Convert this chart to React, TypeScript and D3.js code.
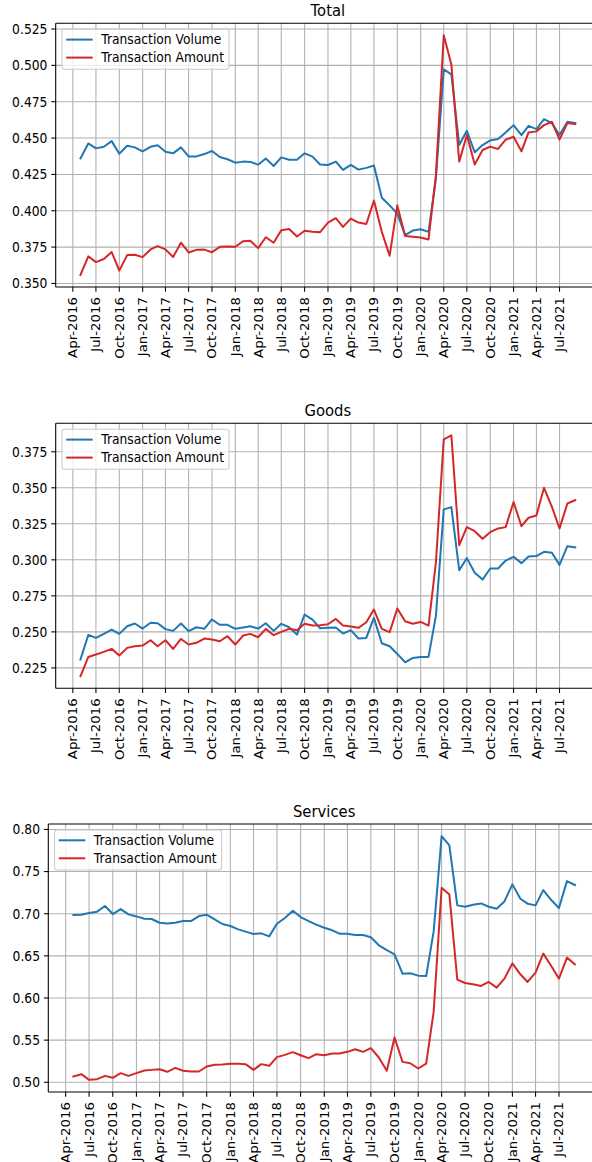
import React from "react";
import * as d3 from "d3";

// ---------- data ----------
const startYear = 2016;
const startMonth = 4; // May (0-based)
const nMonths = 65;

const tickLabels = [
  "Apr-2016", "Jul-2016", "Oct-2016", "Jan-2017", "Apr-2017", "Jul-2017", "Oct-2017",
  "Jan-2018", "Apr-2018", "Jul-2018", "Oct-2018", "Jan-2019", "Apr-2019", "Jul-2019",
  "Oct-2019", "Jan-2020", "Apr-2020", "Jul-2020", "Oct-2020", "Jan-2021", "Apr-2021", "Jul-2021",
];

const totalVolume = [
  0.4360, 0.4463, 0.4429, 0.4440, 0.4479, 0.4392, 0.4447, 0.4436, 0.4408, 0.4440,
  0.4450, 0.4406, 0.4395, 0.4436, 0.4374, 0.4374, 0.4390, 0.4411, 0.4370, 0.4354,
  0.4331, 0.4338, 0.4336, 0.4317, 0.4360, 0.4308, 0.4367, 0.4351, 0.4351, 0.4395,
  0.4372, 0.4318, 0.4315, 0.4338, 0.4281, 0.4315, 0.4283, 0.4295, 0.4311, 0.4090,
  0.4037, 0.3980, 0.3832, 0.3864, 0.3873, 0.3855, 0.4220, 0.4972, 0.4938, 0.4452,
  0.4550, 0.4402, 0.4452, 0.4484, 0.4493, 0.4539, 0.4589, 0.4521, 0.4584, 0.4562,
  0.4630, 0.4603, 0.4521, 0.4612, 0.4603,
];
const totalAmount = [
  0.3558, 0.3686, 0.3647, 0.3668, 0.3716, 0.3588, 0.3695, 0.3697, 0.3681, 0.3734,
  0.3757, 0.3734, 0.3682, 0.3780, 0.3713, 0.3731, 0.3733, 0.3715, 0.3752, 0.3754,
  0.3752, 0.3791, 0.3793, 0.3743, 0.3818, 0.3780, 0.3866, 0.3875, 0.3823, 0.3862,
  0.3855, 0.3853, 0.3919, 0.3950, 0.3889, 0.3946, 0.3919, 0.3909, 0.4071, 0.3855,
  0.3691, 0.4037, 0.3827, 0.3821, 0.3816, 0.3802, 0.4242, 0.5207, 0.5006, 0.4338,
  0.4521, 0.4318, 0.4418, 0.4441, 0.4425, 0.4489, 0.4509, 0.4409, 0.4539, 0.4546,
  0.4589, 0.4612, 0.4489, 0.4603, 0.4596,
];
const goodsVolume = [
  0.2308, 0.2479, 0.2458, 0.2486, 0.2516, 0.2486, 0.2539, 0.2558, 0.2523, 0.2563,
  0.2560, 0.2519, 0.2507, 0.2558, 0.2505, 0.2532, 0.2521, 0.2586, 0.2549, 0.2549,
  0.2521, 0.2530, 0.2539, 0.2523, 0.2560, 0.2507, 0.2556, 0.2532, 0.2481, 0.2620,
  0.2585, 0.2525, 0.2528, 0.2530, 0.2488, 0.2512, 0.2454, 0.2458, 0.2597, 0.2421,
  0.2400, 0.2347, 0.2289, 0.2319, 0.2326, 0.2326, 0.2609, 0.3350, 0.3366, 0.2928,
  0.3012, 0.2910, 0.2863, 0.2940, 0.2940, 0.2995, 0.3021, 0.2977, 0.3023, 0.3026,
  0.3056, 0.3049, 0.2965, 0.3095, 0.3086,
];
const goodsAmount = [
  0.2192, 0.2326, 0.2343, 0.2361, 0.2382, 0.2336, 0.2389, 0.2400, 0.2405, 0.2442,
  0.2400, 0.2442, 0.2382, 0.2451, 0.2412, 0.2424, 0.2454, 0.2447, 0.2435, 0.2470,
  0.2412, 0.2475, 0.2486, 0.2463, 0.2521, 0.2477, 0.2500, 0.2521, 0.2512, 0.2556,
  0.2544, 0.2546, 0.2553, 0.2590, 0.2544, 0.2537, 0.2528, 0.2567, 0.2655, 0.2521,
  0.2498, 0.2662, 0.2574, 0.2556, 0.2569, 0.2544, 0.2979, 0.3836, 0.3864, 0.3102,
  0.3227, 0.3199, 0.3146, 0.3192, 0.3218, 0.3227, 0.3401, 0.3234, 0.3292, 0.3308,
  0.3500, 0.3368, 0.3218, 0.3391, 0.3414,
];
const servicesVolume = [
  0.6984, 0.6988, 0.7008, 0.7024, 0.7091, 0.6996, 0.7055, 0.6992, 0.6968, 0.6941,
  0.6937, 0.6893, 0.6885, 0.6893, 0.6913, 0.6913, 0.6972, 0.6988, 0.6933, 0.6878,
  0.6854, 0.6814, 0.6787, 0.6759, 0.6767, 0.6731, 0.6881, 0.6949, 0.7036, 0.6960,
  0.6913, 0.6870, 0.6834, 0.6803, 0.6763, 0.6763, 0.6747, 0.6747, 0.6720, 0.6625,
  0.6569, 0.6518, 0.6289, 0.6293, 0.6265, 0.6261, 0.6787, 0.7920, 0.7810, 0.7099,
  0.7083, 0.7107, 0.7122, 0.7083, 0.7059, 0.7146, 0.7348, 0.7178, 0.7119, 0.7099,
  0.7280, 0.7162, 0.7067, 0.7387, 0.7340,
];
const servicesAmount = [
  0.5068, 0.5096, 0.5029, 0.5037, 0.5076, 0.5053, 0.5108, 0.5076, 0.5108, 0.5140,
  0.5147, 0.5155, 0.5124, 0.5171, 0.5136, 0.5128, 0.5128, 0.5187, 0.5207, 0.5211,
  0.5219, 0.5219, 0.5215, 0.5147, 0.5215, 0.5195, 0.5298, 0.5325, 0.5357, 0.5321,
  0.5286, 0.5333, 0.5321, 0.5341, 0.5341, 0.5361, 0.5392, 0.5361, 0.5404, 0.5294,
  0.5136, 0.5531, 0.5242, 0.5226, 0.5163, 0.5222, 0.5835, 0.7308, 0.7229, 0.6218,
  0.6178, 0.6163, 0.6143, 0.6190, 0.6123, 0.6230, 0.6411, 0.6281, 0.6190, 0.6301,
  0.6526, 0.6380, 0.6230, 0.6479, 0.6400,
];

const totalTicks = [0.35, 0.375, 0.4, 0.425, 0.45, 0.475, 0.5, 0.525];
const goodsTicks = [0.225, 0.25, 0.275, 0.3, 0.325, 0.35, 0.375];
const servicesTicks = [0.5, 0.55, 0.6, 0.65, 0.7, 0.75, 0.8];

const seriesNames = ["Transaction Volume", "Transaction Amount"];
const seriesColors = ["#1f77b4", "#d62728"];

// ---------- layout ----------
const W = 592;
const H = 1162;
const HS = 0.925; // horizontal squeeze of text
const FONT = "DejaVu Sans, sans-serif";

const dates = d3.range(nMonths).map((i) => new Date(startYear, startMonth + i, 1));
const parseTick = d3.timeParse("%b-%Y");
const tickDates = tickLabels.map((s) => parseTick(s) as Date);

type PanelProps = {
  title: string;
  volume: number[];
  amount: number[];
  yTicks: number[];
  fmt: string;
  left: number;
  top: number;
  bottom: number;
};

function padDomain(lo: number, hi: number) {
  const p = (hi - lo) * 0.05;
  return [lo - p, hi + p];
}

function Panel({ title, volume, amount, yTicks, fmt, left, top, bottom }: PanelProps) {
  const right = 600;
  const t0 = dates[0].getTime();
  const t1 = dates[dates.length - 1].getTime();
  const [d0, d1] = padDomain(t0, t1);
  const x = d3.scaleTime().domain([new Date(d0), new Date(d1)]).range([left, right]);
  const all = volume.concat(amount);
  const [y0, y1] = padDomain(d3.min(all) as number, d3.max(all) as number);
  const y = d3.scaleLinear().domain([y0, y1]).range([bottom, top]);
  const line = d3
    .line<number>()
    .x((_, i) => x(dates[i]))
    .y((v) => y(v));
  const f = d3.format(fmt);
  const clipId = "clip-" + title;
  const series = [volume, amount];
  return (
    <g>
      <defs>
        <clipPath id={clipId}>
          <rect x={left} y={top} width={right - left} height={bottom - top} />
        </clipPath>
      </defs>
      {/* grid */}
      {tickDates.map((d, i) => (
        <line key={"gx" + i} x1={x(d)} x2={x(d)} y1={top} y2={bottom} stroke="#b0b0b0" strokeWidth={1.07} />
      ))}
      {yTicks.map((v, i) => (
        <line key={"gy" + i} x1={left} x2={right} y1={y(v)} y2={y(v)} stroke="#b0b0b0" strokeWidth={1.07} />
      ))}
      {/* lines */}
      <g clipPath={`url(#${clipId})`}>
        {series.map((s, k) => (
          <path key={"s" + k} d={line(s) || ""} fill="none" stroke={seriesColors[k]} strokeWidth={2} strokeLinejoin="round" strokeLinecap="square" />
        ))}
      </g>
      {/* spines */}
      <line x1={left} x2={right} y1={top} y2={top} stroke="#000" strokeWidth={1.07} />
      <line x1={left} x2={right} y1={bottom} y2={bottom} stroke="#000" strokeWidth={1.07} />
      <line x1={left} x2={left} y1={top} y2={bottom} stroke="#000" strokeWidth={1.07} />
      <line x1={right} x2={right} y1={top} y2={bottom} stroke="#000" strokeWidth={1.07} />
      {/* y ticks */}
      {yTicks.map((v, i) => (
        <g key={"yt" + i}>
          <line x1={left - 4.4} x2={left} y1={y(v)} y2={y(v)} stroke="#000" strokeWidth={1.07} />
          <text
            transform={`translate(${left - 8.3},${y(v)}) scale(${HS},1)`}
            textAnchor="end"
            dy="0.36em"
            fontFamily={FONT}
            fontSize={13.33}
            fill="#000"
          >
            {f(v)}
          </text>
        </g>
      ))}
      {/* x ticks */}
      {tickDates.map((d, i) => (
        <g key={"xt" + i}>
          <line x1={x(d)} x2={x(d)} y1={bottom} y2={bottom + 4.67} stroke="#000" strokeWidth={1.07} />
          <text
            transform={`translate(${x(d)},${bottom + 10}) scale(${HS},1) rotate(-90)`}
            textAnchor="end"
            dy="0.36em"
            fontFamily={FONT}
            fontSize={13.33}
            fill="#000"
          >
            {tickLabels[i]}
          </text>
        </g>
      ))}
      {/* title */}
      <text
        transform={`translate(${(left + right) / 2},${top - 7.5}) scale(${HS},1)`}
        textAnchor="middle"
        fontFamily={FONT}
        fontSize={16}
        fill="#000"
      >
        {title}
      </text>
      {/* legend */}
      <g>
        <rect
          x={left + 6.3}
          y={top + 6}
          width={167}
          height={40}
          rx={2.5}
          fill="#fff"
          fillOpacity={0.8}
          stroke="#cccccc"
          strokeWidth={1.07}
        />
        {seriesNames.map((n, k) => (
          <g key={"lg" + k}>
            <line
              x1={left + 10.5}
              x2={left + 37}
              y1={top + 16.3 + k * 18}
              y2={top + 16.3 + k * 18}
              stroke={seriesColors[k]}
              strokeWidth={2}
            />
            <text
              transform={`translate(${left + 45.5},${top + 16.3 + k * 18}) scale(${HS},1)`}
              dy="0.36em"
              fontFamily={FONT}
              fontSize={13.33}
              fill="#000"
            >
              {n}
            </text>
          </g>
        ))}
      </g>
    </g>
  );
}

export default function App() {
  return (
    <svg
      width={W}
      height={H}
      viewBox={`0 0 ${W} ${H}`}
      style={{ position: "absolute", left: 0, top: 0, background: "#fff" }}
    >
      <rect x={0} y={0} width={W} height={H} fill="#fff" />
      <Panel title="Total" volume={totalVolume} amount={totalAmount} yTicks={totalTicks} fmt=".3f" left={55.7} top={23.3} bottom={287} />
      <Panel title="Goods" volume={goodsVolume} amount={goodsAmount} yTicks={goodsTicks} fmt=".3f" left={55.7} top={423.3} bottom={688.3} />
      <Panel title="Services" volume={servicesVolume} amount={servicesAmount} yTicks={servicesTicks} fmt=".2f" left={48.3} top={824} bottom={1092} />
    </svg>
  );
}
